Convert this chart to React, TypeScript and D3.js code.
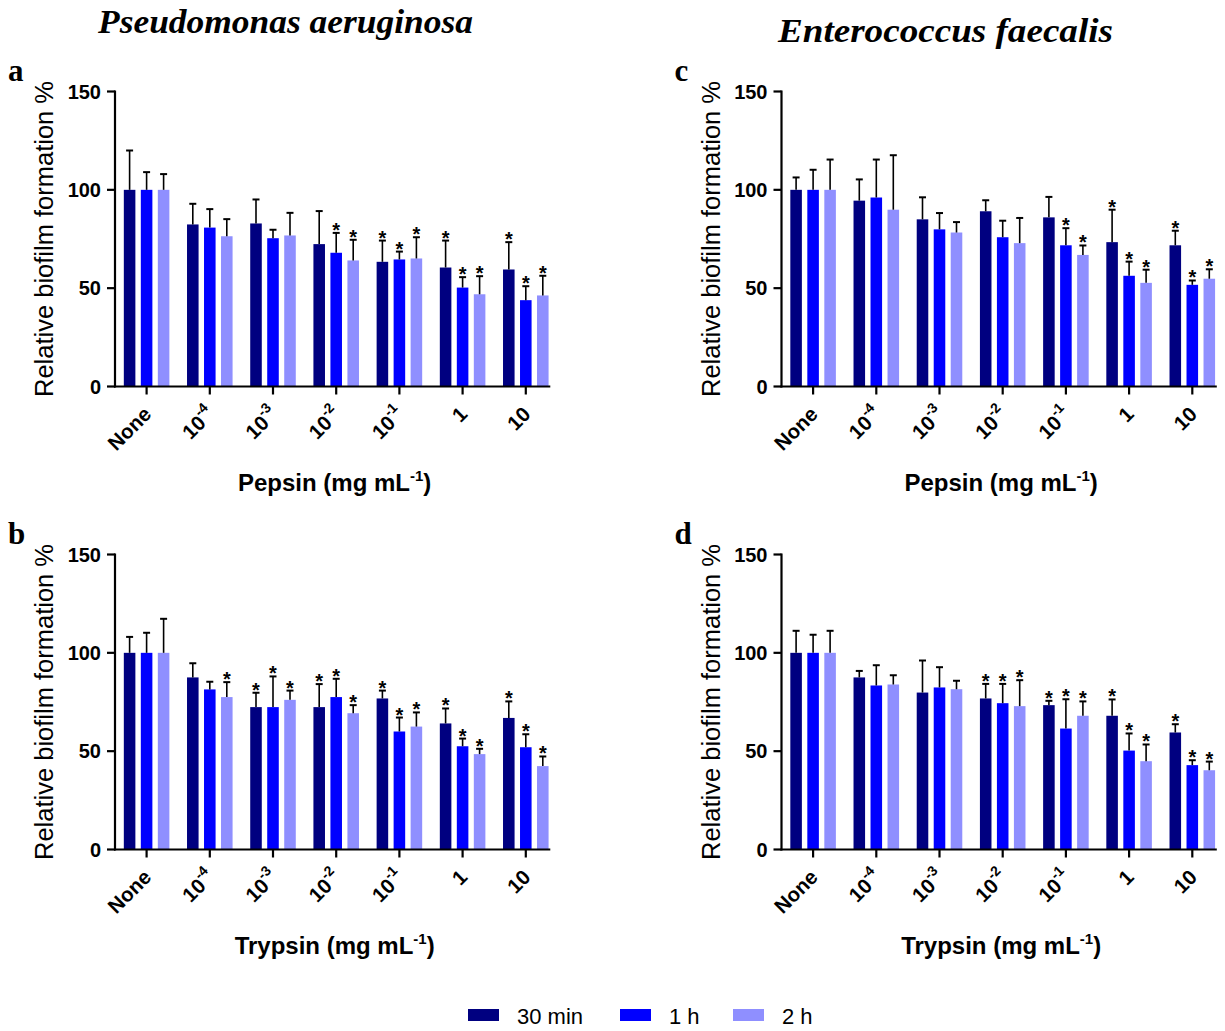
import * as d3 from 'd3';
import React, { useEffect, useRef } from 'react';

// x categories: [base, superscript]
const tickLabels = [["None", ""], ["10", "-4"], ["10", "-3"], ["10", "-2"], ["10", "-1"], ["1", ""], ["10", ""]];
const seriesNames = ["30 min", "1 h", "2 h"];
const seriesColors = ["#000080", "#0000ff", "#8f8fff"];

// panel a: P. aeruginosa, pepsin
const aMean = [
    [100, 82.4, 82.9, 72.4, 63.4, 60.5, 59.5],
    [100, 80.8, 75.4, 68.0, 64.6, 50.3, 43.9],
    [100, 76.4, 76.8, 64.1, 65.1, 46.9, 46.3],
];
const aSd = [
    [20, 10.5, 12.2, 16.8, 10.8, 13.7, 13.9],
    [9, 9.4, 4.3, 10.1, 4.0, 5.3, 7.1],
    [8, 8.7, 11.5, 10.5, 10.8, 9.2, 10.0],
];
const aSig = [
    [0, 0, 0, 0, 1, 1, 1],
    [0, 0, 0, 1, 1, 1, 1],
    [0, 0, 0, 1, 1, 1, 1],
];

// panel b: P. aeruginosa, trypsin
const bMean = [
    [100, 87.5, 72.4, 72.4, 76.8, 64.1, 66.9],
    [100, 81.4, 72.4, 77.5, 60.0, 52.5, 52.0],
    [100, 77.5, 76.1, 69.3, 62.5, 48.5, 42.4],
];
const bSd = [
    [8.1, 7.2, 7.3, 11.7, 4.0, 7.6, 8.4],
    [10.2, 3.9, 15.6, 9.3, 7.1, 3.9, 6.6],
    [17.3, 7.6, 4.7, 4.1, 7.2, 2.7, 4.9],
];
const bSig = [
    [0, 0, 1, 1, 1, 1, 1],
    [0, 0, 1, 1, 1, 1, 1],
    [0, 1, 1, 1, 1, 1, 1],
];

// panel c: E. faecalis, pepsin
const cMean = [
    [100, 94.5, 85.0, 89.1, 86.0, 73.4, 71.8],
    [100, 96.1, 79.9, 75.9, 71.8, 56.3, 51.7],
    [100, 89.9, 78.3, 72.9, 66.9, 52.7, 54.8],
];
const cSd = [
    [6.3, 10.8, 11.2, 5.6, 10.4, 16.5, 7.4],
    [10.2, 19.3, 8.3, 8.4, 8.7, 7.2, 2.2],
    [15.4, 27.7, 5.3, 12.8, 4.8, 6.7, 4.8],
];
const cSig = [
    [0, 0, 0, 0, 0, 1, 1],
    [0, 0, 0, 0, 1, 1, 1],
    [0, 0, 0, 0, 1, 1, 1],
];

// panel d: E. faecalis, trypsin
const dMean = [
    [100, 87.5, 79.8, 76.8, 73.4, 68.0, 59.5],
    [100, 83.4, 82.4, 74.4, 61.5, 50.3, 42.9],
    [100, 83.9, 81.5, 72.9, 68.0, 44.9, 40.3],
];
const dSd = [
    [11.2, 3.3, 16.3, 7.4, 2.2, 8.3, 4.2],
    [9.2, 10.3, 10.3, 9.8, 14.9, 8.7, 2.5],
    [11.2, 4.7, 4.3, 13.2, 7.3, 8.5, 4.4],
];
const dSig = [
    [0, 0, 0, 1, 1, 1, 1],
    [0, 0, 0, 1, 1, 1, 1],
    [0, 0, 0, 1, 1, 1, 1],
];

const yTicks = [0, 50, 100, 150];

const panels = [
    { letter: "a", enzyme: "Pepsin", x0: 115, zeroY: 386.5, mean: aMean, sd: aSd, sig: aSig },
    { letter: "b", enzyme: "Trypsin", x0: 115, zeroY: 849.5, mean: bMean, sd: bSd, sig: bSig },
    { letter: "c", enzyme: "Pepsin", x0: 781.5, zeroY: 386.5, mean: cMean, sd: cSd, sig: cSig },
    { letter: "d", enzyme: "Trypsin", x0: 781.5, zeroY: 849.5, mean: dMean, sd: dSd, sig: dSig },
];

const SANS = "'Liberation Sans', Arial, sans-serif";
const SERIF = "'Liberation Serif', 'Times New Roman', serif";

const App = () => {
    const ref = useRef(null);

    useEffect(() => {
        const svg = d3.select(ref.current);
        svg.selectAll("*").remove();

        const plotH = 295;
        const groupStep = 63.2;

        panels.forEach(p => {
            const g = svg.append("g");
            const cats = tickLabels.map((d, i) => String(i));

            const x = d3.scaleBand()
                .domain(cats)
                .range([p.x0, p.x0 + groupStep * cats.length])
                .paddingInner(0)
                .paddingOuter(0);

            const xSub = d3.scaleBand()
                .domain(seriesNames)
                .range([-25.5, 25.5])
                .paddingInner(0.32)
                .paddingOuter(0.16);

            const y = d3.scaleLinear()
                .domain([0, 150])
                .range([p.zeroY, p.zeroY - plotH]);

            // bars
            seriesNames.forEach((s, si) => {
                cats.forEach((c, ci) => {
                    const cx = x(c) + x.bandwidth() / 2;
                    const bx = cx + xSub(s);
                    const m = p.mean[si][ci];
                    const top = m + p.sd[si][ci];
                    g.append("rect")
                        .attr("x", bx)
                        .attr("y", y(m))
                        .attr("width", xSub.bandwidth())
                        .attr("height", y(0) - y(m))
                        .attr("fill", seriesColors[si]);

                    const ex = bx + xSub.bandwidth() / 2;
                    g.append("line")
                        .attr("x1", ex).attr("x2", ex)
                        .attr("y1", y(m)).attr("y2", y(top))
                        .attr("stroke", "#000").attr("stroke-width", 1.6);
                    g.append("line")
                        .attr("x1", ex - 3.5).attr("x2", ex + 3.5)
                        .attr("y1", y(top)).attr("y2", y(top))
                        .attr("stroke", "#000").attr("stroke-width", 2);

                    if (p.sig[si][ci]) {
                        g.append("text")
                            .attr("x", ex)
                            .attr("y", y(top) + 4)
                            .attr("text-anchor", "middle")
                            .attr("font-family", SANS)
                            .attr("font-weight", "bold")
                            .attr("font-size", 20)
                            .text("*");
                    }
                });
            });

            // axes
            const xEnd = x(cats[cats.length - 1]) + x.bandwidth() / 2 + 25.5 - 1;
            g.append("line")
                .attr("x1", p.x0 - 1).attr("x2", xEnd)
                .attr("y1", y(0)).attr("y2", y(0))
                .attr("stroke", "#000").attr("stroke-width", 2.2);
            g.append("line")
                .attr("x1", p.x0).attr("x2", p.x0)
                .attr("y1", y(0) + 1).attr("y2", y(150) - 1)
                .attr("stroke", "#000").attr("stroke-width", 2.2);

            yTicks.forEach(t => {
                g.append("line")
                    .attr("x1", p.x0 - 8).attr("x2", p.x0)
                    .attr("y1", y(t)).attr("y2", y(t))
                    .attr("stroke", "#000").attr("stroke-width", 2.2);
                g.append("text")
                    .attr("x", p.x0 - 14)
                    .attr("y", y(t))
                    .attr("dy", "0.36em")
                    .attr("text-anchor", "end")
                    .attr("font-family", SANS)
                    .attr("font-weight", "bold")
                    .attr("font-size", 20)
                    .text(t);
            });

            cats.forEach((c, ci) => {
                const cx = x(c) + x.bandwidth() / 2;
                g.append("line")
                    .attr("x1", cx).attr("x2", cx)
                    .attr("y1", y(0)).attr("y2", y(0) + 8)
                    .attr("stroke", "#000").attr("stroke-width", 2.2);
                const lbl = g.append("text")
                    .attr("transform", `translate(${cx + 6},${y(0) + 29}) rotate(-45)`)
                    .attr("text-anchor", "end")
                    .attr("font-family", SANS)
                    .attr("font-weight", "bold")
                    .attr("font-size", 20.5);
                lbl.append("tspan").text(tickLabels[ci][0]);
                if (tickLabels[ci][1]) {
                    lbl.append("tspan")
                        .attr("font-size", 14)
                        .attr("dy", -10)
                        .text(tickLabels[ci][1]);
                }
            });

            // x title
            const midX = (p.x0 + xEnd) / 2;
            const xt = g.append("text")
                .attr("x", midX + 2)
                .attr("y", y(0) + 104)
                .attr("text-anchor", "middle")
                .attr("font-family", SANS)
                .attr("font-weight", "bold")
                .attr("font-size", 24);
            xt.append("tspan").text(`${p.enzyme} (mg mL`);
            xt.append("tspan").attr("font-size", 15).attr("dy", -10).text("-1");
            xt.append("tspan").attr("dy", 10).text(")");

            // y title
            g.append("text")
                .attr("transform", `translate(${p.x0 - 62},${(y(0) + y(150)) / 2}) rotate(-90)`)
                .attr("text-anchor", "middle")
                .attr("font-family", SANS)
                .attr("font-size", 25.5)
                .text("Relative biofilm formation %");

            // panel letter
            g.append("text")
                .attr("x", p.x0 - 107)
                .attr("y", y(150) - 11)
                .attr("font-family", SERIF)
                .attr("font-weight", "bold")
                .attr("font-size", 31)
                .text(p.letter);
        });

        // species titles
        svg.append("text")
            .attr("x", 98).attr("y", 33)
            .attr("textLength", 375).attr("lengthAdjust", "spacingAndGlyphs")
            .attr("font-family", SERIF).attr("font-weight", "bold").attr("font-style", "italic")
            .attr("font-size", 33)
            .text("Pseudomonas aeruginosa");
        svg.append("text")
            .attr("x", 778).attr("y", 42)
            .attr("textLength", 335).attr("lengthAdjust", "spacingAndGlyphs")
            .attr("font-family", SERIF).attr("font-weight", "bold").attr("font-style", "italic")
            .attr("font-size", 34)
            .text("Enterococcus faecalis");

        // legend
        const legendX = [468, 620, 733];
        const legend = svg.append("g");
        seriesNames.forEach((s, i) => {
            legend.append("rect")
                .attr("x", legendX[i]).attr("y", 1009)
                .attr("width", 31).attr("height", 12)
                .attr("fill", seriesColors[i]);
            legend.append("text")
                .attr("x", legendX[i] + 49).attr("y", 1024)
                .attr("font-family", SANS)
                .attr("font-size", 22)
                .text(s);
        });
    }, []);

    return (
        <svg ref={ref} width={1225} height={1031}
            style={{ position: "absolute", left: 0, top: 0, background: "#fff" }} />
    );
};

export default App;
